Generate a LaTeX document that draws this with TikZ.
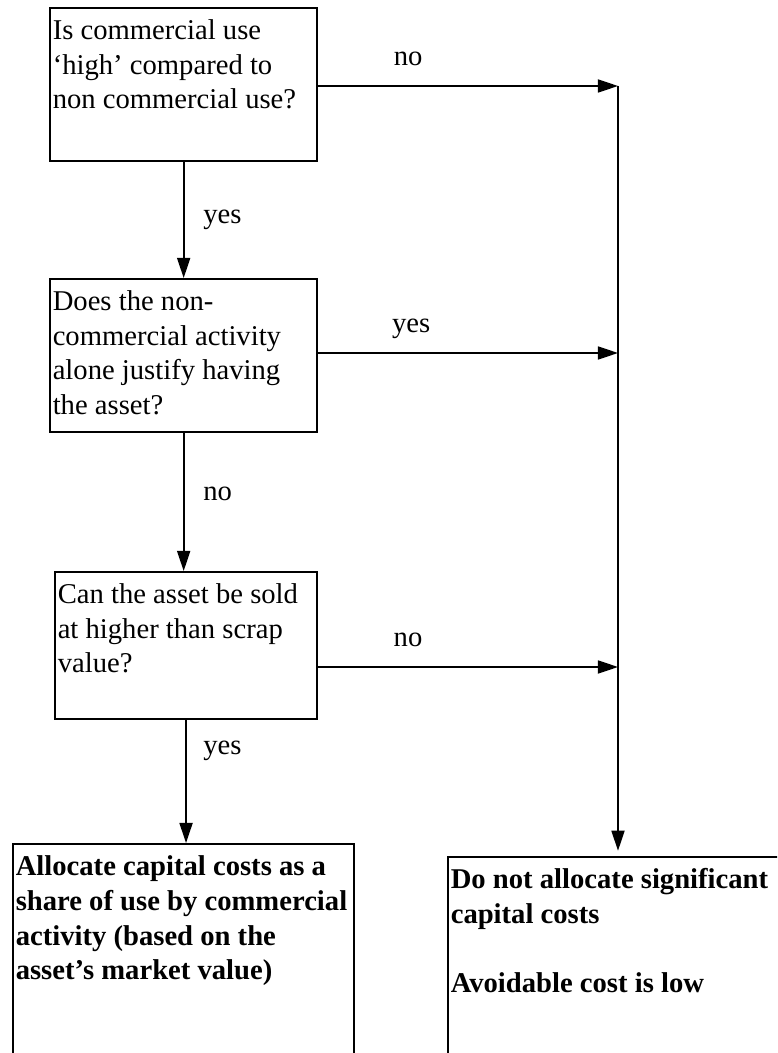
\documentclass[tikz,border=0pt]{standalone}
\usepackage{fontspec}
\setmainfont{Liberation Serif}
\usetikzlibrary{arrows.meta}

\newcommand{\qfont}{\fontsize{16.3}{19.9}\selectfont}

\begin{document}
\begin{tikzpicture}[x=0.02cm,y=-0.02cm,>={Triangle[length=11.4pt,width=7.4pt]},line width=1pt,
   box/.style={draw,line width=1.3pt,anchor=north west,align=flush left,inner xsep=1.5pt,inner ysep=0pt,text height=17.6pt,font=\qfont},
   result/.style={box,font=\qfont\bfseries},
   hlbl/.style={anchor=base,yshift=11.4pt,font=\qfont},
   vlbl/.style={anchor=base west,font=\qfont}]
   \clip (0,0) rectangle (777,1053);

   \node[box,text width=149pt,text depth=69.5pt]    (q1) at (49,7)    {Is commercial use\\ ‘high’ compared to\\ non commercial use?};
   \node[box,text width=149pt,text depth=69.5pt]    (q2) at (49,278)  {Does the non-\\ commercial activity\\ alone justify having\\ the asset?};
   \node[box,text width=146pt,text depth=66pt]      (q3) at (54,571)  {Can the asset be sold\\ at higher than scrap\\ value?};
   \node[result,text width=191pt,text depth=160pt]  (o1) at (12,843)  {Allocate capital costs as a\\ share of use by commercial\\ activity (based on the\\ asset’s market value)};
   \node[result,text width=210pt,text depth=160pt]  (o2) at (447,856) {Do not allocate significant\\ capital costs\\[19.9pt] Avoidable cost is low};

   \coordinate (j1) at (618,86);
   \coordinate (j2) at (618,353);
   \coordinate (j3) at (618,667);

   \path[->] (q1.east |- j1) edge node[hlbl,pos=.3]  {no}  (j1)
             (q2.east |- j2) edge node[hlbl,pos=.31] {yes} (j2)
             (q3.east |- j3) edge node[hlbl,pos=.3]  {no}  (j3)
             (q1)            edge node[vlbl,pos=.53,xshift=7.4pt] {yes} (q2)
             (q2.south)      edge node[vlbl,pos=.49,xshift=7.4pt] {no}  (q2.south |- q3.north)
             (q3.south)      edge node[vlbl,pos=.28,xshift=6pt]   {yes} (q3.south |- o1.north)
             (j1)            edge [shorten >=3pt] (j1 |- o2.north);
\end{tikzpicture}
\end{document}
